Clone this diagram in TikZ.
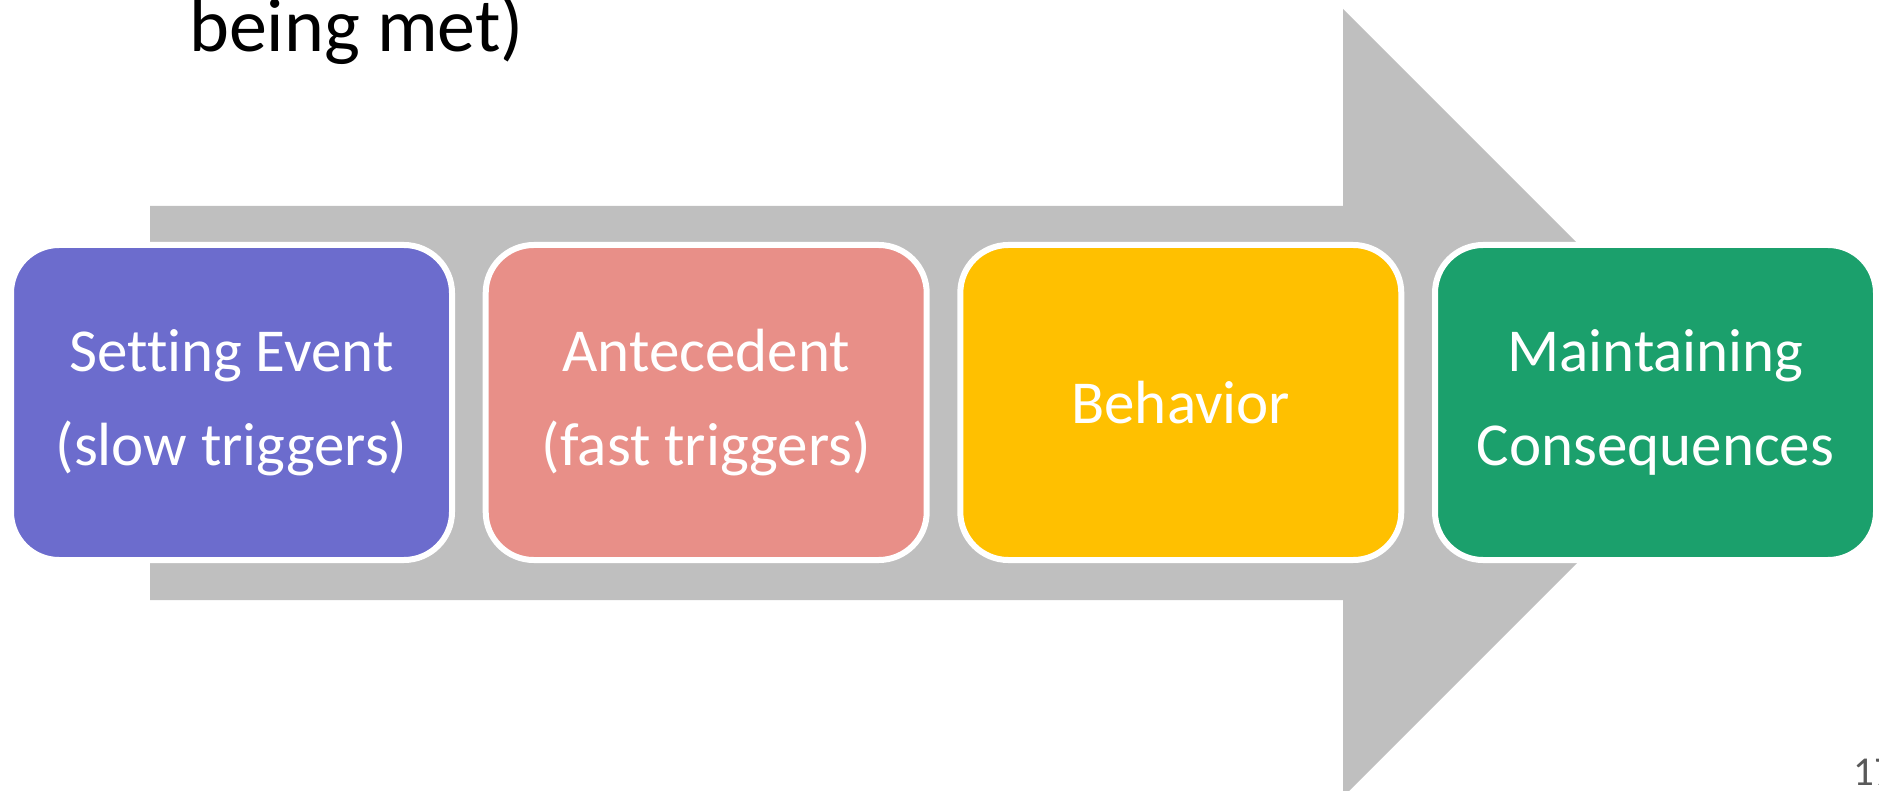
\documentclass[tikz,border=0pt]{standalone}
\usepackage{fontspec}
\setmainfont{Carlito}[Ligatures=NoCommon]
\definecolor{arrowgrey}{RGB}{191,191,191}
\definecolor{cpurple}{RGB}{108,108,205}
\definecolor{csalmon}{RGB}{232,143,136}
\definecolor{cyellow}{RGB}{255,192,0}
\definecolor{cgreen}{RGB}{27,160,108}
\definecolor{pagegrey}{RGB}{89,89,89}
\begin{document}
\begin{tikzpicture}[x=1pt,y=-1pt,
  stagebox/.style={draw=white, line width=6pt, rounded corners=48pt,
    minimum width=441pt, minimum height=315pt, inner sep=0pt,
    text=white, align=center,
    font=\fontsize{61}{94}\selectfont},
]
\useasboundingbox (0,0) rectangle (1879,791);
\clip (0,0) rectangle (1879,791);
% big arrow
\fill[arrowgrey] (150,206) -- (1343,206) -- (1343,9) -- (1737,403)
  -- (1343,797) -- (1343,600) -- (150,600) -- cycle;
% title fragment
\node[anchor=base west, inner sep=0pt, font=\fontsize{76}{90}\selectfont]
  (title) at (189,52) {being met)};
% stage boxes
\node[stagebox, fill=cpurple] (s1) at (231.5,402.5) {Setting Event\\(slow triggers)};
\node[stagebox, fill=csalmon] (s2) at (706.2,402.5) {Antecedent\\(fast triggers)};
\node[stagebox, fill=cyellow] (s3) at (1180.8,402.5) {Behavior};
\node[stagebox, fill=cgreen] (s4) at (1655.5,402.5) {Maintaining\\Consequences};
% page number
\node[anchor=base west, inner sep=0pt, text=pagegrey, font=\fontsize{41}{48}\selectfont]
  (page) at (1853,785) {17};
\end{tikzpicture}
\end{document}
